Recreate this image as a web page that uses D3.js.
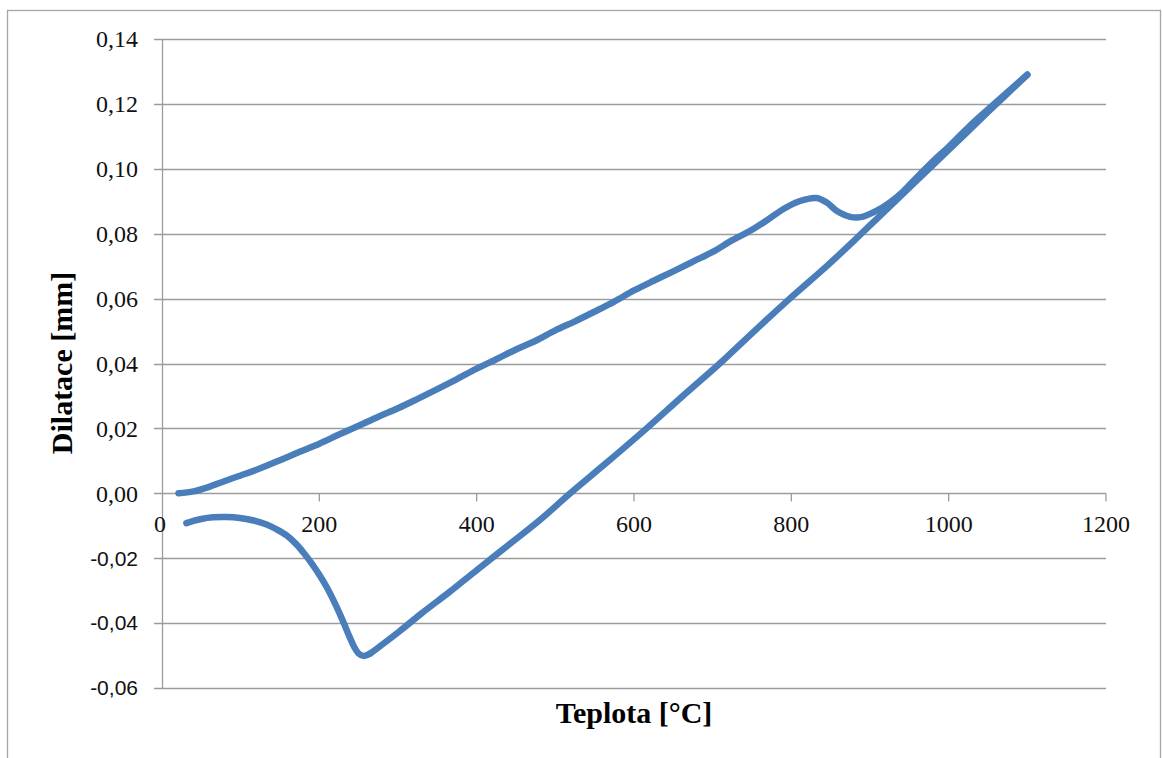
<!DOCTYPE html>
<html><head><meta charset="utf-8">
<script src="https://cdn.jsdelivr.net/npm/d3@7"></script>
<style>html,body{margin:0;padding:0;background:#fff;}</style>
</head><body>
<svg id="c" width="1162" height="758"></svg>
<script>
// Heating branch (temperature °C, dilatation mm)
const heatT = [21,40,60,80,100,125,150,175,200,225,250,275,300,325,350,375,400,425,450,475,500,525,550,575,600,625,650,675,700,725,750,770,790,810,832,845,858,875,890,908,925,942,960,980,1000,1025,1050,1075,1100];
const heatV = [0.0000,0.0006,0.0020,0.0038,0.0055,0.0077,0.0102,0.0128,0.0153,0.0181,0.0208,0.0236,0.0262,0.0291,0.0321,0.0352,0.0384,0.0413,0.0443,0.0470,0.0502,0.0530,0.0560,0.0591,0.0625,0.0655,0.0684,0.0714,0.0744,0.0780,0.0812,0.0843,0.0876,0.0900,0.0910,0.0896,0.0870,0.0852,0.0852,0.0870,0.0896,0.0930,0.0975,0.1023,0.1068,0.1128,0.1183,0.1237,0.1290];
// Cooling branch
const coolT = [1100,1050,1000,950,889,845,798,753,709,662,616,568,519,480,440,400,366,330,302,280,268,262,256,250,244,238,232,225,218,210,201,190,180,170,158,145,133,115,99,82,65,50,40,31];
const coolV = [0.1290,0.1175,0.1058,0.0942,0.0800,0.0700,0.0600,0.0500,0.0400,0.0300,0.0200,0.0100,0.0000,-0.0083,-0.0160,-0.0237,-0.0303,-0.0370,-0.0425,-0.0466,-0.0488,-0.0497,-0.0501,-0.0494,-0.0472,-0.0440,-0.0405,-0.0366,-0.0330,-0.0292,-0.0255,-0.0215,-0.0183,-0.0155,-0.0129,-0.0110,-0.0096,-0.0083,-0.0076,-0.0073,-0.0074,-0.0079,-0.0085,-0.0092];
const xTicks = [0,200,400,600,800,1000,1200];
const yTicks = [-0.06,-0.04,-0.02,0,0.02,0.04,0.06,0.08,0.10,0.12,0.14];
const xTitle = "Teplota [°C]";
const yTitle = "Dilatace [mm]";

const svg = d3.select("#c");
const L = 162, R = 1106, T = 39, B = 688;
const x = d3.scaleLinear().domain([0,1200]).range([L,R]);
const y = d3.scaleLinear().domain([-0.06,0.14]).range([B,T]);
const grey = "#9c9c9c";

// outer frame
svg.append("rect").attr("x",7.5).attr("y",10.5).attr("width",1153).attr("height",800)
  .attr("fill","none").attr("stroke","#a6a6a6").attr("stroke-width",1.3);

// horizontal gridlines + y ticks
const fmt = v => d3.format(".2f")(v).replace(".",",").replace("−","-");
svg.append("g").selectAll("line").data(yTicks).join("line")
  .attr("x1",L-8).attr("x2",R).attr("y1",d=>Math.round(y(d))+0.5).attr("y2",d=>Math.round(y(d))+0.5)
  .attr("stroke",grey).attr("stroke-width",1.3);
svg.append("g").selectAll("text").data(yTicks).join("text")
  .attr("x",138).attr("y",d=>y(d)).attr("dy","0.35em").attr("text-anchor","end")
  .attr("font-family",d=>d<0?"Liberation Sans, Arial, sans-serif":"Liberation Serif, Times New Roman, serif")
  .attr("font-size",d=>d<0?21:24).attr("fill","#111")
  .text(d=>fmt(Math.abs(d)<1e-9?0:d));

// y axis line
svg.append("line").attr("x1",L+0.5).attr("x2",L+0.5).attr("y1",T).attr("y2",B)
  .attr("stroke",grey).attr("stroke-width",1.3);
// x axis at y=0 with ticks
const y0 = Math.round(y(0))+0.5;
svg.append("g").selectAll("line").data(xTicks.filter(d=>d>0)).join("line")
  .attr("x1",d=>x(d)).attr("x2",d=>x(d)).attr("y1",y0).attr("y2",y0+8)
  .attr("stroke",grey).attr("stroke-width",1.3);
svg.append("g").selectAll("text").data(xTicks).join("text")
  .attr("x",d=>d===0?x(d)-2:x(d)).attr("y",532).attr("text-anchor","middle")
  .attr("font-family","Liberation Serif, Times New Roman, serif").attr("font-size",24).attr("fill","#111")
  .text(d=>d);

// titles
svg.append("text").attr("x",634).attr("y",723).attr("text-anchor","middle")
  .attr("font-family","Liberation Serif, Times New Roman, serif").attr("font-weight","bold")
  .attr("font-size",30).attr("fill","#000").text(xTitle);
svg.append("text").attr("transform","translate(72,363) rotate(-90)").attr("text-anchor","middle")
  .attr("font-family","Liberation Serif, Times New Roman, serif").attr("font-weight","bold")
  .attr("font-size",30).attr("fill","#000").text(yTitle);

// series
const line = d3.line().x(d=>x(d[0])).y(d=>y(d[1])).curve(d3.curveCatmullRom.alpha(0.5));
const heat = heatT.map((t,i)=>[t,heatV[i]]);
const cool = coolT.map((t,i)=>[t,coolV[i]]);
[cool, heat].forEach(s=>{
  svg.append("path").datum(s).attr("d",line).attr("fill","none")
    .attr("stroke","#4a7ebb").attr("stroke-width",6.5).attr("stroke-linecap","round").attr("stroke-linejoin","round");
});
</script>
</body></html>
